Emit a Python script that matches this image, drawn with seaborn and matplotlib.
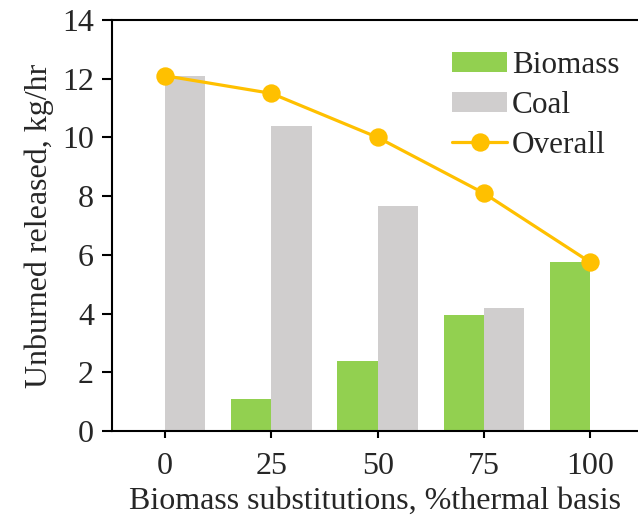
import pandas as pd
import matplotlib
matplotlib.use('Agg')
import matplotlib.pyplot as plt
import seaborn as sns

# data
subs = ['0', '25', '50', '75', '100']
biomass = [0.0, 1.1, 2.4, 3.95, 5.75]
coal = [12.1, 10.4, 7.65, 4.2, 0.0]
overall = [12.1, 11.5, 10.0, 8.1, 5.75]

df = pd.DataFrame({
    'sub': subs * 2,
    'source': ['Biomass'] * 5 + ['Coal'] * 5,
    'value': biomass + coal,
})

sns.set_style('ticks')
plt.rcParams['font.family'] = ['Liberation Serif', 'DejaVu Serif']

fig = plt.figure(figsize=(6.38, 5.26), dpi=100)
ax = fig.add_axes([0.1755, 0.1806, 0.8245, 0.7814])

sns.barplot(data=df, x='sub', y='value', hue='source', order=subs,
            hue_order=['Biomass', 'Coal'],
            palette={'Biomass': '#92D050', 'Coal': '#D0CECE'},
            width=0.76, saturation=1, linewidth=0, ax=ax)
sns.pointplot(x=subs, y=overall, order=subs, color='#FFC000', markers='o',
              markersize=11.5, linewidth=2.3, label='Overall', ax=ax)

ax.set_xlim(-0.5, 4.45)
ax.set_ylim(0, 14)
ax.set_yticks(range(0, 15, 2))
ax.set_xlabel('Biomass substitutions, %thermal basis', fontsize=23, labelpad=4)
ax.set_ylabel('Unburned released, kg/hr', fontsize=23, labelpad=6)
ax.tick_params(axis='both', labelsize=23, width=1.5, color='black')
ax.tick_params(axis='y', length=7, pad=6)
ax.tick_params(axis='x', length=5, pad=10)
for s in ['left', 'bottom', 'top']:
    ax.spines[s].set_linewidth(1.5)
    ax.spines[s].set_color('black')
ax.spines['right'].set_visible(False)

h, l = ax.get_legend_handles_labels()
ax.legend(h, l, loc='upper right', bbox_to_anchor=(1.0, 0.97), frameon=False,
          fontsize=22.5, handlelength=1.75, handleheight=0.6, handletextpad=0.15,
          labelspacing=0.35, borderaxespad=0.2)

fig.savefig('out.png', dpi=100)
